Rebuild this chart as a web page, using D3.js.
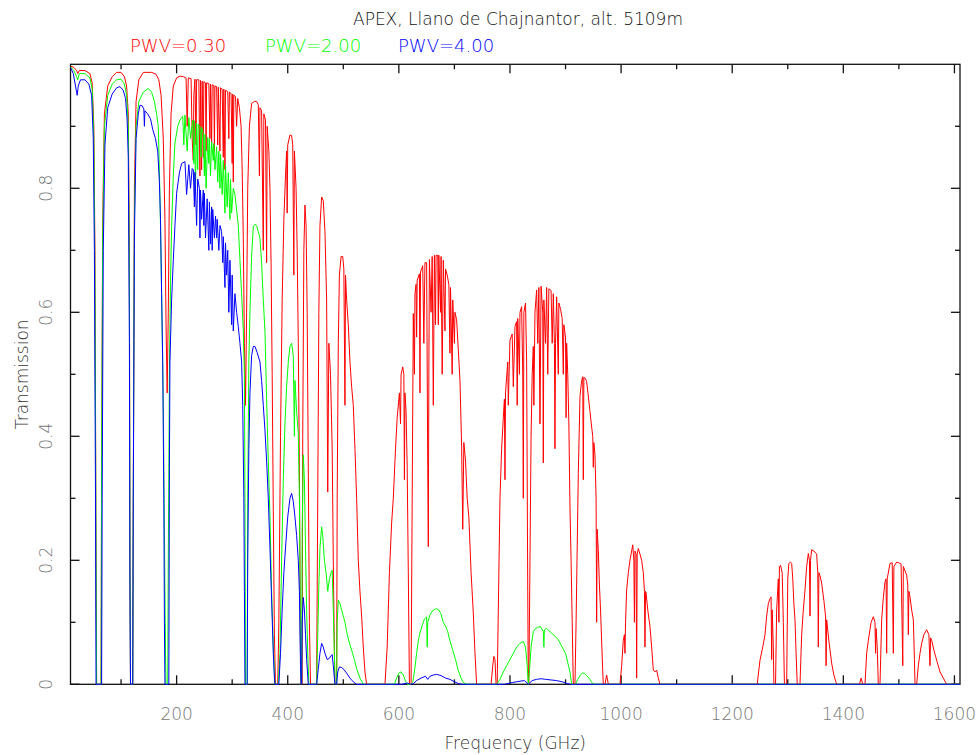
<!DOCTYPE html>
<html>
<head>
<meta charset="utf-8">
<script src="https://cdn.jsdelivr.net/npm/d3@7"></script>
<style>
  body { margin: 0; background: #fff; }
  text { font-family: "DejaVu Sans", sans-serif; font-weight: 200; }
</style>
</head>
<body>
<svg id="chart" width="980" height="755"></svg>
<script>
const chartTitle = "APEX, Llano de Chajnantor, alt. 5109m";
const xTitle = "Frequency (GHz)";
const yTitle = "Transmission";

const freqTicks = [200, 400, 600, 800, 1000, 1200, 1400, 1600];
const freqMinor = [100, 300, 500, 700, 900, 1100, 1300, 1500];
const transTicks = [0, 0.2, 0.4, 0.6, 0.8];
const transMinor = [0.1, 0.3, 0.5, 0.7, 0.9];

const seriesNames = ["PWV=0.30", "PWV=2.00", "PWV=4.00"];
const seriesColors = ["#ff0000", "#00ff00", "#0000ff"];

// [frequency GHz, transmission]
const pwv030 = [
  [9,0.997],[15,0.995],[20,0.99],[22,0.985],[25,0.99],[35,0.99],[44,0.985],[48,0.97],[51,0.9],[53,0.7],[55,0.2],[56,0],[64,0],[65,0.35],[67,0.75],[70,0.92],[76,0.965],[84,0.98],[92,0.987],[100,0.987],[106,0.98],[110,0.965],[113,0.92],[115,0.7],[116,0.2],[117,0],[121,0],[122,0.3],[124,0.8],[127,0.94],[132,0.975],[140,0.987],[155,0.987],[163,0.984],[168,0.975],[172,0.95],[176,0.88],[179,0.75],[181,0.58],[183,0.47],[185,0.6],[187,0.8],[190,0.92],[194,0.965],[200,0.978],[206,0.981],[212,0.98],[217,0.978],[219,0.9],[221,0.978],[226,0.977],[228,0.88],[230,0.845],[231,0.95],[233,0.976],[235,0.87],[236,0.975],[240,0.975],[242,0.82],[243,0.974],[245,0.83],[246,0.973],[248,0.85],[249,0.972],[252,0.97],[253,0.86],[254,0.97],[258,0.969],[260,0.88],[261,0.968],[263,0.87],[264,0.967],[267,0.966],[268,0.86],[269,0.965],[272,0.964],[274,0.87],[275,0.963],[278,0.86],[279,0.962],[282,0.96],[284,0.85],[285,0.96],[287,0.83],[288,0.958],[292,0.956],[294,0.88],[295,0.955],[298,0.953],[300,0.84],[301,0.952],[302,0.81],[303,0.95],[306,0.948],[308,0.9],[310,0.945],[313,0.93],[316,0.9],[318,0.83],[320,0.72],[322,0.55],[324,0.45],[326,0.6],[328,0.8],[331,0.9],[335,0.937],[340,0.94],[344,0.94],[347,0.935],[349,0.82],[350,0.93],[353,0.925],[356,0.7],[357,0.92],[360,0.91],[362,0.68],[363,0.9],[366,0.86],[368,0.8],[370,0.68],[372,0.5],[374,0.28],[376,0.08],[378,0],[382,0],[384,0.1],[387,0.4],[390,0.62],[393,0.75],[396,0.82],[398,0.86],[399,0.76],[400,0.87],[404,0.886],[407,0.885],[409,0.87],[411,0.66],[412,0.86],[415,0.8],[417,0.7],[419,0.55],[421,0.35],[423,0.05],[424,0],[426,0],[427,0.4],[429,0.7],[431,0.773],[433,0.74],[435,0.6],[437,0.35],[439,0.1],[441,0],[452,0],[454,0.3],[456,0.6],[458,0.74],[461,0.786],[464,0.78],[467,0.73],[470,0.62],[472,0.31],[474,0.55],[477,0.5],[480,0.38],[482,0.2],[484,0.05],[485,0],[488,0],[489,0.3],[491,0.55],[493,0.66],[496,0.69],[499,0.69],[501,0.67],[503,0.45],[504,0.66],[506,0.62],[509,0.58],[512,0.52],[515,0.48],[518,0.45],[521,0.38],[524,0.3],[527,0.2],[530,0.15],[533,0.11],[536,0.06],[539,0.02],[542,0],
  [575,0],[579,0.06],[583,0.18],[587,0.26],[590,0.3],[594,0.38],[597,0.43],[601,0.47],[603,0.42],[604,0.5],[607,0.512],[609,0.5],[610,0.33],[611,0.47],[613,0.44],[615,0.35],[617,0.18],[619,0],[622,0],[624,0.3],[626,0.598],[628,0.5],[629,0.63],[631,0.645],[632,0.56],[633,0.652],[637,0.662],[638,0.47],[639,0.665],[643,0.675],[645,0.55],[647,0.68],[650,0.68],[652,0.35],[653,0.222],[654,0.5],[655,0.685],[658,0.6],[660,0.69],[662,0.45],[664,0.692],[666,0.58],[667,0.692],[670,0.692],[671,0.58],[672,0.692],[675,0.6],[676,0.69],[678,0.5],[680,0.684],[683,0.57],[684,0.67],[687,0.66],[690,0.645],[692,0.534],[693,0.64],[696,0.5],[697,0.62],[700,0.55],[701,0.6],[704,0.588],[707,0.54],[710,0.49],[713,0.383],[715,0.25],[717,0.39],[720,0.36],[723,0.3],[726,0.27],[730,0.18],[734,0.115],[737,0.05],[740,0],
  [766,0],[769,0.03],[771,0.045],[773,0.04],[775,0],
  [777,0],[779,0.12],[782,0.3],[785,0.38],[788,0.43],[790,0.46],[791,0.33],[792,0.47],[796,0.52],[797,0.45],[800,0.555],[804,0.565],[806,0.48],[809,0.577],[812,0.585],[813,0.45],[814,0.59],[817,0.5],[818,0.6],[821,0.609],[823,0.5],[824,0.3],[825,0.6],[828,0.615],[830,0.52],[832,0.15],[833,0],[834,0],[836,0.2],[838,0.4],[840,0.5],[842,0.545],[843,0.45],[845,0.6],[848,0.636],[850,0.55],[852,0.64],[854,0.42],[856,0.642],[859,0.6],[860,0.357],[861,0.62],[864,0.55],[866,0.64],[868,0.5],[870,0.638],[874,0.635],[876,0.55],[878,0.63],[880,0.55],[881,0.38],[882,0.55],[884,0.625],[887,0.5],[888,0.615],[891,0.605],[894,0.59],[896,0.5],[897,0.58],[900,0.56],[901,0.43],[902,0.55],[904,0.5],[906,0.42],[908,0.286],[910,0.2],[912,0.1],[914,0],
  [917,0],[919,0.1],[921,0.22],[923,0.34],[926,0.464],[929,0.49],[931,0.496],[932,0.33],[933,0.495],[936,0.493],[938,0.488],[941,0.465],[944,0.44],[947,0.415],[949,0.4],[950,0.35],[951,0.39],[953,0.37],[955,0.3],[956,0.1],[957,0.25],[959,0.217],[961,0.16],[963,0.12],[965,0.07],[967,0.02],[968,0],
  [971,0],[974,0.015],[977,0],
  [998,0],[1001,0.03],[1004,0.071],[1006,0.08],[1007,0.05],[1008,0.1],[1010,0.152],[1013,0.18],[1016,0.2],[1019,0.215],[1021,0.225],[1023,0.2],[1024,0.1],[1025,0.215],[1027,0.21],[1028,0.01],[1029,0.21],[1031,0.219],[1034,0.21],[1037,0.2],[1040,0.18],[1042,0.15],[1043,0.06],[1044,0.15],[1045,0.147],[1048,0.12],[1052,0.093],[1055,0.06],[1058,0.023],[1061,0.02],[1064,0.023],[1067,0.01],[1070,0],
  [1245,0],[1250,0.039],[1255,0.06],[1259,0.08],[1262,0.11],[1265,0.13],[1268,0.138],[1270,0.141],[1271,0.04],[1272,0.12],[1274,0.06],[1275,0],[1278,0],[1280,0.12],[1283,0.17],[1284,0.1],[1285,0.19],[1287,0.192],[1290,0.18],[1292,0.1],[1294,0],[1298,0],[1300,0.17],[1302,0.195],[1305,0.197],[1307,0.195],[1309,0.17],[1311,0.13],[1313,0.104],[1315,0.05],[1317,0],[1322,0],[1325,0.08],[1328,0.12],[1331,0.152],[1334,0.19],[1337,0.211],[1339,0.2],[1340,0.11],[1341,0.2],[1343,0.217],[1347,0.215],[1352,0.21],[1354,0.18],[1355,0.06],[1356,0.18],[1358,0.175],[1361,0.163],[1365,0.135],[1368,0.11],[1369,0.03],[1370,0.104],[1374,0.07],[1379,0.034],[1383,0.015],[1388,0],
  [1429,0],[1432,0.01],[1435,0],[1439,0],[1442,0.05],[1445,0.071],[1450,0.1],[1454,0.109],[1457,0.1],[1458,0.05],[1459,0.09],[1461,0.06],[1463,0],[1466,0],[1469,0.104],[1472,0.14],[1475,0.165],[1477,0.17],[1478,0.05],[1479,0.17],[1484,0.195],[1488,0.196],[1490,0.05],[1491,0.19],[1496,0.197],[1500,0.196],[1504,0.194],[1507,0.03],[1508,0.19],[1511,0.183],[1514,0.176],[1516,0.16],[1517,0.08],[1518,0.15],[1520,0.141],[1523,0.12],[1526,0.104],[1528,0.04],[1529,0],[1532,0],[1535,0.03],[1538,0.05],[1541,0.066],[1545,0.08],[1550,0.088],[1554,0.08],[1556,0.03],[1557,0.075],[1559,0.071],[1563,0.055],[1568,0.039],[1574,0.02],[1580,0.01],[1586,0],[1610,0]
];

const pwv200 = [
  [9,0.996],[15,0.99],[20,0.98],[22,0.975],[25,0.985],[35,0.985],[44,0.978],[48,0.96],[51,0.88],[53,0.65],[55,0.2],[56,0],[64,0],[65,0.35],[67,0.72],[70,0.9],[76,0.95],[84,0.968],[92,0.975],[100,0.976],[106,0.968],[110,0.95],[113,0.9],[115,0.65],[116,0.2],[117,0],[121,0],[122,0.3],[124,0.75],[127,0.9],[132,0.94],[140,0.955],[149,0.961],[155,0.955],[160,0.94],[164,0.92],[167,0.9],[170,0.79],[173,0.63],[176,0.45],[178,0.25],[180,0.05],[181,0],[184,0],[185,0.2],[187,0.5],[189,0.65],[191,0.738],[194,0.82],[197,0.873],[202,0.9],[206,0.91],[211,0.916],[213,0.87],[215,0.918],[219,0.86],[222,0.914],[225,0.88],[229,0.91],[231,0.84],[232,0.909],[234,0.8],[236,0.905],[238,0.83],[239,0.903],[242,0.9],[244,0.85],[245,0.898],[248,0.889],[250,0.82],[251,0.887],[253,0.8],[256,0.882],[258,0.84],[259,0.88],[261,0.82],[263,0.875],[266,0.845],[267,0.872],[269,0.83],[272,0.867],[274,0.81],[276,0.86],[278,0.8],[279,0.855],[282,0.79],[284,0.845],[287,0.76],[288,0.838],[291,0.77],[293,0.825],[296,0.75],[297,0.815],[299,0.76],[302,0.8],[305,0.79],[308,0.765],[311,0.74],[314,0.684],[317,0.63],[320,0.57],[322,0.5],[323,0.3],[324,0],[327,0],[328,0.3],[330,0.52],[332,0.6],[335,0.69],[338,0.738],[341,0.742],[344,0.74],[347,0.73],[350,0.72],[353,0.68],[356,0.62],[359,0.57],[362,0.46],[365,0.36],[368,0.27],[371,0.15],[374,0.06],[377,0],
  [383,0],[386,0.05],[389,0.2],[392,0.33],[395,0.42],[398,0.48],[401,0.52],[404,0.545],[407,0.55],[410,0.53],[412,0.4],[413,0.49],[416,0.44],[419,0.405],[421,0.3],[423,0.05],[424,0],[425,0],[426,0.25],[428,0.37],[430,0.33],[432,0.22],[434,0.12],[436,0.05],[438,0],
  [452,0],[454,0.08],[456,0.16],[458,0.22],[461,0.254],[463,0.24],[466,0.2],[469,0.18],[472,0.15],[475,0.17],[478,0.18],[480,0.184],[482,0.12],[484,0.05],[485,0],[488,0],[489,0.1],[491,0.136],[494,0.13],[497,0.12],[500,0.11],[503,0.1],[506,0.085],[510,0.07],[515,0.055],[520,0.04],[524,0.025],[530,0.01],[536,0],
  [592,0],[596,0.01],[600,0.018],[604,0.02],[608,0.015],[612,0.005],[615,0],[621,0],[625,0.003],[628,0.02],[632,0.05],[635,0.07],[638,0.083],[642,0.095],[646,0.105],[650,0.109],[651,0.06],[652,0.1],[656,0.112],[660,0.118],[665,0.121],[668,0.122],[672,0.12],[676,0.113],[680,0.1],[684,0.094],[688,0.085],[692,0.07],[697,0.055],[702,0.04],[707,0.022],[712,0.01],[716,0.003],[722,0],
  [776,0],[782,0.008],[788,0.02],[794,0.03],[800,0.04],[806,0.05],[812,0.06],[818,0.066],[824,0.069],[828,0.06],[831,0.03],[833,0],[835,0.02],[838,0.06],[842,0.085],[846,0.09],[850,0.092],[855,0.093],[860,0.085],[861,0.06],[862,0.088],[866,0.09],[872,0.085],[878,0.08],[884,0.075],[888,0.07],[894,0.06],[900,0.05],[904,0.035],[908,0.02],[911,0],
  [918,0],[922,0.008],[926,0.014],[930,0.018],[934,0.018],[938,0.014],[942,0.01],[946,0.005],[950,0],[1610,0]
];

const pwv400 = [
  [9,0.995],[14,0.985],[18,0.965],[20,0.955],[21,0.95],[23,0.965],[27,0.975],[35,0.975],[42,0.968],[47,0.95],[50,0.88],[52,0.7],[54,0.3],[55,0],[65,0],[66,0.3],[68,0.7],[71,0.87],[76,0.93],[84,0.952],[92,0.962],[98,0.964],[104,0.958],[108,0.945],[111,0.91],[113,0.85],[115,0.55],[116,0.15],[117,0],[121,0],[122,0.3],[124,0.72],[127,0.88],[131,0.92],[134,0.934],[138,0.933],[141,0.928],[142,0.9],[143,0.925],[148,0.92],[153,0.912],[157,0.895],[162,0.88],[166,0.86],[169,0.81],[171,0.75],[173,0.63],[175,0.52],[177,0.3],[178,0.1],[179,0],[186,0],[187,0.35],[188,0.52],[191,0.62],[194,0.684],[197,0.74],[200,0.792],[205,0.825],[209,0.84],[215,0.843],[218,0.79],[222,0.838],[225,0.8],[228,0.832],[230,0.83],[232,0.77],[233,0.826],[236,0.74],[238,0.815],[241,0.8],[242,0.72],[243,0.797],[245,0.75],[248,0.797],[249,0.74],[250,0.792],[252,0.72],[255,0.783],[258,0.7],[259,0.778],[261,0.71],[263,0.77],[264,0.7],[265,0.766],[268,0.72],[270,0.755],[272,0.72],[273,0.75],[276,0.7],[278,0.74],[281,0.73],[283,0.68],[284,0.722],[287,0.64],[288,0.712],[290,0.66],[292,0.7],[294,0.6],[296,0.684],[299,0.58],[300,0.66],[302,0.57],[305,0.63],[308,0.6],[311,0.577],[314,0.55],[317,0.52],[319,0.45],[321,0.3],[322,0.15],[323,0],[327,0],[328,0.2],[330,0.38],[332,0.47],[335,0.53],[338,0.545],[341,0.545],[345,0.535],[350,0.52],[353,0.49],[356,0.45],[359,0.41],[362,0.36],[365,0.3],[368,0.22],[371,0.136],[374,0.05],[376,0.01],[377,0],
  [384,0],[387,0.05],[390,0.12],[393,0.18],[396,0.22],[400,0.27],[404,0.3],[407,0.308],[410,0.295],[413,0.27],[416,0.24],[419,0.2],[421,0.15],[423,0.03],[424,0],[425,0],[426,0.1],[428,0.14],[430,0.12],[432,0.08],[434,0.04],[437,0],
  [452,0],[455,0.025],[458,0.05],[461,0.066],[464,0.06],[467,0.05],[471,0.04],[475,0.042],[478,0.046],[480,0.048],[482,0.03],[484,0.01],[485,0],[488,0],[490,0.02],[493,0.028],[497,0.027],[501,0.024],[506,0.018],[512,0.01],[518,0.004],[524,0],
  [605,0],[615,0.002],[621,0],[626,0.001],[632,0.006],[640,0.01],[648,0.013],[652,0.008],[656,0.013],[662,0.015],[668,0.016],[676,0.014],[684,0.01],[692,0.008],[700,0.004],[708,0.001],[714,0],
  [790,0],[805,0.003],[818,0.005],[826,0.006],[833,0],[840,0.006],[848,0.008],[856,0.009],[864,0.008],[874,0.007],[884,0.006],[894,0.004],[904,0.001],[910,0],[1610,0]
];

const seriesData = [pwv030, pwv200, pwv400];

const svg = d3.select("#chart");
const plot = { left: 70.5, right: 960, top: 64.3, bottom: 684.3 };

const x = d3.scaleLinear().domain([9, 1610]).range([plot.left, plot.right]);
const y = d3.scaleLinear().domain([0, 1]).range([plot.bottom, plot.top]);

// frame
svg.append("rect")
  .attr("x", plot.left)
  .attr("y", plot.top)
  .attr("width", plot.right - plot.left)
  .attr("height", plot.bottom - plot.top)
  .attr("fill", "none")
  .attr("stroke", "#111")
  .attr("stroke-width", 1.3);

// ticks on all four sides, pointing inward
function xTicks(values, len) {
  values.forEach((v) => {
    svg.append("line").attr("x1", x(v)).attr("x2", x(v))
      .attr("y1", plot.bottom).attr("y2", plot.bottom - len)
      .attr("stroke", "#111").attr("stroke-width", 1.3);
    svg.append("line").attr("x1", x(v)).attr("x2", x(v))
      .attr("y1", plot.top).attr("y2", plot.top + len)
      .attr("stroke", "#111").attr("stroke-width", 1.3);
  });
}
function yTicks(values, len) {
  values.forEach((v) => {
    svg.append("line").attr("x1", plot.left).attr("x2", plot.left + len)
      .attr("y1", y(v)).attr("y2", y(v))
      .attr("stroke", "#111").attr("stroke-width", 1.3);
    svg.append("line").attr("x1", plot.right).attr("x2", plot.right - len)
      .attr("y1", y(v)).attr("y2", y(v))
      .attr("stroke", "#111").attr("stroke-width", 1.3);
  });
}
xTicks(freqTicks, 9);
xTicks(freqMinor, 5);
yTicks(transTicks, 9);
yTicks(transMinor, 5);

// tick labels
svg.append("g")
  .selectAll("text")
  .data(freqTicks)
  .join("text")
  .attr("x", (d) => x(d))
  .attr("y", 720)
  .attr("text-anchor", "middle")
  .attr("font-size", 17)
  .attr("fill", "#777")
  .text((d) => d);

svg.append("g")
  .selectAll("text")
  .data(transTicks)
  .join("text")
  .attr("transform", (d) => `translate(52,${y(d)}) rotate(-90)`)
  .attr("text-anchor", "middle")
  .attr("font-size", 17)
  .attr("fill", "#777")
  .text((d) => (d === 0 ? "0" : d.toFixed(1)));

// axis titles
svg.append("text")
  .attr("x", (plot.left + plot.right) / 2)
  .attr("y", 749)
  .attr("text-anchor", "middle")
  .attr("font-size", 17)
  .attr("fill", "#333")
  .text(xTitle);

svg.append("text")
  .attr("transform", `translate(28,${(plot.top + plot.bottom) / 2}) rotate(-90)`)
  .attr("text-anchor", "middle")
  .attr("font-size", 17)
  .attr("fill", "#333")
  .text(yTitle);

// title and legend
svg.append("text")
  .attr("x", 518)
  .attr("y", 25)
  .attr("text-anchor", "middle")
  .attr("font-size", 17)
  .attr("fill", "#111")
  .text(chartTitle);

const legendX = [130, 265, 398];
svg.append("g")
  .selectAll("text")
  .data(seriesNames)
  .join("text")
  .attr("x", (d, i) => legendX[i])
  .attr("y", 52)
  .attr("font-size", 18)
  .attr("fill", (d, i) => seriesColors[i])
  .text((d) => d);

// curves
svg.append("clipPath")
  .attr("id", "plot-clip")
  .append("rect")
  .attr("x", plot.left)
  .attr("y", plot.top - 1)
  .attr("width", plot.right - plot.left)
  .attr("height", plot.bottom - plot.top + 2);

const line = d3.line()
  .x((d) => x(d[0]))
  .y((d) => y(d[1]));

svg.append("g")
  .attr("clip-path", "url(#plot-clip)")
  .selectAll("path")
  .data(seriesData)
  .join("path")
  .attr("fill", "none")
  .attr("stroke", (d, i) => seriesColors[i])
  .attr("stroke-width", 1)
  .attr("d", line);
</script>
</body>
</html>
